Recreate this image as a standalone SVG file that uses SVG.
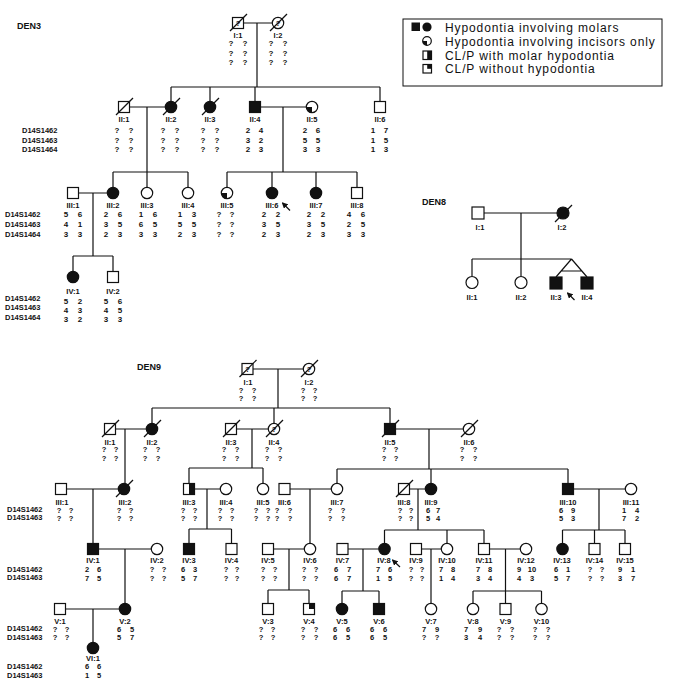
<svg xmlns="http://www.w3.org/2000/svg" width="675" height="690" viewBox="0 0 675 690">
<style>
.ln{stroke:#111;stroke-width:1.2;fill:none}
.o{fill:#fff;stroke:#111;stroke-width:1.2}
.f{fill:#111;stroke:#111;stroke-width:1.2}
.k{fill:#111;stroke:none}
text{font-family:"Liberation Sans",Arial,sans-serif;font-weight:bold;fill:#111}
.lb,.g,.q{font-size:7.5px;text-anchor:middle}
g[id^="den3"] .g{font-size:8px}
.mk{font-size:7.5px}
.ttl{font-size:9px}
.leg{font-size:12px;font-weight:normal;letter-spacing:0.9px}
</style>
<defs>
<marker id="ah" markerWidth="6" markerHeight="6" refX="5" refY="3" orient="auto" markerUnits="userSpaceOnUse"><path d="M0,0 L6,3 L0,6 z" fill="#111"/></marker>
</defs>
<rect width="675" height="690" fill="#fff"/>

<!-- Titles -->
<text class="ttl" x="17" y="29">DEN3</text>
<text class="ttl" x="422" y="205">DEN8</text>
<text class="ttl" x="137" y="370">DEN9</text>

<!-- Legend -->
<g id="legend">
<rect x="403" y="19" width="259" height="67" fill="#fff" stroke="#111" stroke-width="1"/>
<rect class="k" x="411.5" y="22.5" width="8.5" height="8.5"/>
<circle class="k" cx="427" cy="27" r="4.6"/>
<text class="leg" x="445" y="31.5">Hypodontia involving molars</text>
<circle class="o" cx="427" cy="41" r="4.3"/>
<path class="k" d="M427,41 L422.7,41 A4.3,4.3 0 0 0 427,45.3 Z"/>
<text class="leg" x="445" y="45.5">Hypodontia involving incisors only</text>
<rect class="o" x="423" y="51" width="8.5" height="8.5"/>
<rect class="k" x="427.2" y="51" width="4.3" height="8.5"/>
<text class="leg" x="445" y="59.5">CL/P with molar hypodontia</text>
<rect class="o" x="423" y="64.5" width="8.5" height="8.5"/>
<rect class="k" x="427.2" y="64.5" width="4.3" height="4.3"/>
<text class="leg" x="445" y="73">CL/P without hypodontia</text>
</g>

<!-- Connectors -->
<g id="connectors" class="ln">
<!-- DEN3 -->
<path d="M243.5,23H272.3 M257,23V87 M171,87H380 M171,87V101.3 M210,87V101.3 M255,87V101.5 M380,87V101.5"/>
<path d="M129.5,107H165.3 M147,107V172 M113,172H188 M113,172V187.3 M147,172V187.3 M188,172V187.3"/>
<path d="M260.5,107H306.3 M283,107V172 M227,172H357 M227,172V187.3 M272,172V187.3 M316,172V187.3 M357,172V187.5"/>
<path d="M78.5,193H107.3 M93,193V256 M73,256H113 M73,256V271.3 M113,256V271.5"/>
<!-- DEN8 -->
<path d="M484,213H557 M521,213V259 M472,259H571.5 M472,259V276.3 M521,259V276.3 M571.5,259L556,277 M571.5,259L587,277 M561.5,271H581.5"/>
<!-- DEN9 -->
<path d="M253,369H303.3 M278,369V408 M152,408H390 M152,408V423.3 M274,408V423.3 M390,408V423.5"/>
<path d="M115.5,429H146.3 M125,429V483.3"/>
<path d="M236.5,429H268.3 M252,429V468 M189,468H263 M189,468V483.5 M263,468V483.3"/>
<path d="M395.5,429H463.3 M429,429V469 M337,469H568 M337,469V483.3 M431,469V483.3 M568,469V483.5"/>
<path d="M66.5,489H118.3 M93,489V543.5"/>
<path d="M194.5,489H220.3 M207,489V529 M189,529H231.5 M189,529V543.5 M231.5,529V543.5"/>
<path d="M290,489H331.3 M310,489V543.3"/>
<path d="M409.5,489H425.3 M418,489V530 M384.5,530H484 M384.5,530V543.3 M447,530V543.3 M484,530V543.5"/>
<path d="M573.5,489H625.3 M599,489V530 M562.5,530H625 M562.5,530V543.3 M594.5,530V543.5 M625,530V543.5"/>
<path d="M98.5,549H151.3 M125,549V603.3"/>
<path d="M273.5,549H304.3 M289,549V590 M268,590H309 M268,590V603.5 M309,590V603.5"/>
<path d="M348,549H378.8 M363,549V591 M342,591H379 M342,591V603.3 M379,591V603.5"/>
<path d="M421.5,549H441.3 M431,549V603.3"/>
<path d="M489.5,549H520.3 M505.5,549V591 M473,591H541.5 M473,591V603.3 M505.5,591V603.5 M541.5,591V603.3"/>
<path d="M65.5,609H119.3 M93,609V642.3"/>
</g>

<!-- ================= DEN3 ================= -->
<g id="den3-markers" class="mk">
<text x="22" y="132.5">D14S1462</text><text x="22" y="142.5">D14S1463</text><text x="22" y="152">D14S1464</text>
<text x="5" y="217">D14S1462</text><text x="5" y="227">D14S1463</text><text x="5" y="237">D14S1464</text>
<text x="5" y="301">D14S1462</text><text x="5" y="310">D14S1463</text><text x="5" y="320">D14S1464</text>
</g>
<g id="den3-I1"><rect class="o" x="232.5" y="17.5" width="11" height="11"/><text class="q" x="238" y="26">?</text><line class="ln" x1="230" y1="31" x2="247" y2="14"/><text class="lb" x="238" y="38">I:1</text>
<g class="g"><text x="231" y="46">?</text><text x="245" y="46">?</text><text x="231" y="55.5">?</text><text x="245" y="55.5">?</text><text x="231" y="65">?</text><text x="245" y="65">?</text></g></g>
<g id="den3-I2"><circle class="o" cx="278" cy="23" r="5.7"/><text class="q" x="278" y="26">?</text><line class="ln" x1="270" y1="31" x2="287" y2="14"/><text class="lb" x="278" y="38">I:2</text>
<g class="g"><text x="271" y="46">?</text><text x="285" y="46">?</text><text x="271" y="55.5">?</text><text x="285" y="55.5">?</text><text x="271" y="65">?</text><text x="285" y="65">?</text></g></g>

<g id="den3-II1"><rect class="o" x="118.5" y="101.5" width="11" height="11"/><line class="ln" x1="116" y1="115" x2="133" y2="98"/><text class="lb" x="124" y="122">II:1</text>
<g class="g"><text x="117" y="132.5">?</text><text x="131" y="132.5">?</text><text x="117" y="142.5">?</text><text x="131" y="142.5">?</text><text x="117" y="152">?</text><text x="131" y="152">?</text></g></g>
<g id="den3-II2"><circle class="f" cx="171" cy="107" r="5.7"/><line class="ln" x1="163" y1="115" x2="180" y2="98"/><text class="lb" x="171" y="122">II:2</text>
<g class="g"><text x="163" y="132.5">?</text><text x="177" y="132.5">?</text><text x="163" y="142.5">?</text><text x="177" y="142.5">?</text><text x="163" y="152">?</text><text x="177" y="152">?</text></g></g>
<g id="den3-II3"><circle class="f" cx="210" cy="107" r="5.7"/><line class="ln" x1="202" y1="115" x2="219" y2="98"/><text class="lb" x="210" y="122">II:3</text>
<g class="g"><text x="203" y="132.5">?</text><text x="217" y="132.5">?</text><text x="203" y="142.5">?</text><text x="217" y="142.5">?</text><text x="203" y="152">?</text><text x="217" y="152">?</text></g></g>
<g id="den3-II4"><rect class="f" x="249.5" y="101.5" width="11" height="11"/><text class="lb" x="255" y="122">II:4</text>
<g class="g"><text x="248" y="132.5">2</text><text x="261" y="132.5">4</text><text x="248" y="142.5">3</text><text x="261" y="142.5">2</text><text x="248" y="152">2</text><text x="261" y="152">3</text></g></g>
<g id="den3-II5"><circle class="o" cx="312" cy="107" r="5.7"/><path class="k" d="M312,107 L306.3,107 A5.7,5.7 0 0 0 312,112.7 Z"/><text class="lb" x="312" y="122">II:5</text>
<g class="g"><text x="305" y="132.5">2</text><text x="318" y="132.5">6</text><text x="305" y="142.5">5</text><text x="318" y="142.5">5</text><text x="305" y="152">3</text><text x="318" y="152">3</text></g></g>
<g id="den3-II6"><rect class="o" x="374.5" y="101.5" width="11" height="11"/><text class="lb" x="380" y="122">II:6</text>
<g class="g"><text x="373" y="132.5">1</text><text x="386" y="132.5">7</text><text x="373" y="142.5">1</text><text x="386" y="142.5">5</text><text x="373" y="152">1</text><text x="386" y="152">3</text></g></g>

<g id="den3-III1"><rect class="o" x="67.5" y="187.5" width="11" height="11"/><text class="lb" x="73" y="208">III:1</text>
<g class="g"><text x="66" y="217">5</text><text x="80" y="217">6</text><text x="66" y="227">4</text><text x="80" y="227">1</text><text x="66" y="237">3</text><text x="80" y="237">3</text></g></g>
<g id="den3-III2"><circle class="f" cx="113" cy="193" r="5.7"/><text class="lb" x="113" y="208">III:2</text>
<g class="g"><text x="106" y="217">2</text><text x="120" y="217">6</text><text x="106" y="227">3</text><text x="120" y="227">5</text><text x="106" y="237">2</text><text x="120" y="237">3</text></g></g>
<g id="den3-III3"><circle class="o" cx="147" cy="193" r="5.7"/><text class="lb" x="147" y="208">III:3</text>
<g class="g"><text x="141" y="217">1</text><text x="155" y="217">6</text><text x="141" y="227">6</text><text x="155" y="227">5</text><text x="141" y="237">3</text><text x="155" y="237">3</text></g></g>
<g id="den3-III4"><circle class="o" cx="188" cy="193" r="5.7"/><text class="lb" x="188" y="208">III:4</text>
<g class="g"><text x="180" y="217">1</text><text x="194" y="217">3</text><text x="180" y="227">5</text><text x="194" y="227">5</text><text x="180" y="237">2</text><text x="194" y="237">3</text></g></g>
<g id="den3-III5"><circle class="o" cx="227" cy="193" r="5.7"/><path class="k" d="M227,193 L221.3,193 A5.7,5.7 0 0 0 227,198.7 Z"/><text class="lb" x="227" y="208">III:5</text>
<g class="g"><text x="219" y="217">?</text><text x="232" y="217">?</text><text x="219" y="227">?</text><text x="232" y="227">?</text><text x="219" y="237">?</text><text x="232" y="237">?</text></g></g>
<g id="den3-III6"><circle class="f" cx="272" cy="193" r="5.7"/><text class="lb" x="272" y="208">III:6</text><line class="ln" x1="290" y1="210.5" x2="282.5" y2="203" marker-end="url(#ah)"/>
<g class="g"><text x="264" y="217">2</text><text x="278" y="217">2</text><text x="264" y="227">3</text><text x="278" y="227">5</text><text x="264" y="237">2</text><text x="278" y="237">3</text></g></g>
<g id="den3-III7"><circle class="f" cx="316" cy="193" r="5.7"/><text class="lb" x="316" y="208">III:7</text>
<g class="g"><text x="309" y="217">2</text><text x="323" y="217">2</text><text x="309" y="227">3</text><text x="323" y="227">5</text><text x="309" y="237">2</text><text x="323" y="237">3</text></g></g>
<g id="den3-III8"><rect class="o" x="351.5" y="187.5" width="11" height="11"/><text class="lb" x="357" y="208">III:8</text>
<g class="g"><text x="349" y="217">4</text><text x="363" y="217">6</text><text x="349" y="227">2</text><text x="363" y="227">5</text><text x="349" y="237">3</text><text x="363" y="237">3</text></g></g>

<g id="den3-IV1"><circle class="f" cx="73" cy="277" r="5.7"/><text class="lb" x="73" y="294">IV:1</text>
<g class="g"><text x="66" y="304">5</text><text x="80" y="304">2</text><text x="66" y="313">4</text><text x="80" y="313">3</text><text x="66" y="322">3</text><text x="80" y="322">2</text></g></g>
<g id="den3-IV2"><rect class="o" x="107.5" y="271.5" width="11" height="11"/><text class="lb" x="113" y="294">IV:2</text>
<g class="g"><text x="106" y="304">5</text><text x="120" y="304">6</text><text x="106" y="313">4</text><text x="120" y="313">5</text><text x="106" y="322">3</text><text x="120" y="322">3</text></g></g>

<!-- ================= DEN8 ================= -->
<g id="den8-I1"><rect class="o" x="472" y="207" width="12" height="12"/><text class="lb" x="480" y="230">I:1</text></g>
<g id="den8-I2"><circle class="f" cx="563" cy="213" r="6"/><line class="ln" x1="555" y1="222" x2="572" y2="205"/><text class="lb" x="562" y="230">I:2</text></g>
<g id="den8-II1"><circle class="o" cx="472" cy="282.5" r="6"/><text class="lb" x="472" y="300">II:1</text></g>
<g id="den8-II2"><circle class="o" cx="521" cy="282.5" r="6"/><text class="lb" x="521" y="300">II:2</text></g>
<g id="den8-II3"><rect class="f" x="550" y="277" width="12" height="12"/><text class="lb" x="556" y="300">II:3</text><line class="ln" x1="574.5" y1="300" x2="567.5" y2="293" marker-end="url(#ah)"/></g>
<g id="den8-II4"><rect class="f" x="581" y="277" width="12" height="12"/><text class="lb" x="587" y="300">II:4</text></g>

<!-- ================= DEN9 ================= -->
<g id="den9-markers" class="mk">
<text x="7" y="511.5">D14S1462</text><text x="7" y="520">D14S1463</text>
<text x="7" y="571.5">D14S1462</text><text x="7" y="580">D14S1463</text>
<text x="7" y="631">D14S1462</text><text x="7" y="639.5">D14S1463</text>
<text x="7" y="669">D14S1462</text><text x="7" y="677.5">D14S1463</text>
</g>
<g id="den9-I1"><rect class="o" x="242" y="363.5" width="11" height="11"/><text class="q" x="247.5" y="372">?</text><line class="ln" x1="239.5" y1="377" x2="256.5" y2="360"/><text class="lb" x="248" y="385">I:1</text>
<g class="g"><text x="241" y="392.5">?</text><text x="254" y="392.5">?</text><text x="241" y="401">?</text><text x="254" y="401">?</text></g></g>
<g id="den9-I2"><circle class="o" cx="309" cy="369" r="5.7"/><text class="q" x="309" y="372">?</text><line class="ln" x1="301" y1="377" x2="318" y2="360"/><text class="lb" x="309" y="385">I:2</text>
<g class="g"><text x="303" y="392.5">?</text><text x="315" y="392.5">?</text><text x="303" y="401">?</text><text x="315" y="401">?</text></g></g>

<g id="den9-II1"><rect class="o" x="104.5" y="423.5" width="11" height="11"/><line class="ln" x1="102" y1="437" x2="119" y2="420"/><text class="lb" x="110" y="445">II:1</text>
<g class="g"><text x="104" y="452">?</text><text x="116" y="452">?</text><text x="104" y="461">?</text><text x="116" y="461">?</text></g></g>
<g id="den9-II2"><circle class="f" cx="152" cy="429" r="5.7"/><line class="ln" x1="144" y1="437" x2="161" y2="420"/><text class="lb" x="152" y="445">II:2</text>
<g class="g"><text x="145" y="452">?</text><text x="158" y="452">?</text><text x="145" y="461">?</text><text x="158" y="461">?</text></g></g>
<g id="den9-II3"><rect class="o" x="225.5" y="423.5" width="11" height="11"/><line class="ln" x1="223" y1="437" x2="240" y2="420"/><text class="lb" x="231" y="445">II:3</text>
<g class="g"><text x="224" y="452">?</text><text x="237" y="452">?</text><text x="224" y="461">?</text><text x="237" y="461">?</text></g></g>
<g id="den9-II4"><circle class="o" cx="274" cy="429" r="5.7"/><text class="q" x="274" y="432">?</text><line class="ln" x1="266" y1="437" x2="283" y2="420"/><text class="lb" x="274" y="445">II:4</text>
<g class="g"><text x="267" y="452">?</text><text x="280" y="452">?</text><text x="267" y="461">?</text><text x="280" y="461">?</text></g></g>
<g id="den9-II5"><rect class="f" x="384.5" y="423.5" width="11" height="11"/><line class="ln" x1="382" y1="437" x2="399" y2="420"/><text class="lb" x="390" y="445">II:5</text>
<g class="g"><text x="384" y="452">?</text><text x="396" y="452">?</text><text x="384" y="461">?</text><text x="396" y="461">?</text></g></g>
<g id="den9-II6"><circle class="o" cx="469" cy="429" r="5.7"/><line class="ln" x1="461" y1="437" x2="478" y2="420"/><text class="lb" x="469" y="445">II:6</text>
<g class="g"><text x="462" y="452">?</text><text x="475" y="452">?</text><text x="462" y="461">?</text><text x="475" y="461">?</text></g></g>

<g id="den9-III1"><rect class="o" x="55.5" y="483.5" width="11" height="11"/><text class="lb" x="62" y="505">III:1</text>
<g class="g"><text x="59" y="512.5">?</text><text x="71" y="512.5">?</text><text x="59" y="521">?</text><text x="71" y="521">?</text></g></g>
<g id="den9-III2"><circle class="f" cx="124" cy="489" r="5.7"/><line class="ln" x1="116" y1="497" x2="133" y2="480"/><text class="lb" x="125" y="505">III:2</text>
<g class="g"><text x="119" y="512.5">?</text><text x="131" y="512.5">?</text><text x="119" y="521">?</text><text x="131" y="521">?</text></g></g>
<g id="den9-III3"><rect class="o" x="183.5" y="483.5" width="11" height="11"/><rect class="k" x="189" y="483.5" width="5.5" height="11"/><text class="lb" x="189" y="505">III:3</text>
<g class="g"><text x="183" y="512.5">?</text><text x="195" y="512.5">?</text><text x="183" y="521">?</text><text x="195" y="521">?</text></g></g>
<g id="den9-III4"><circle class="o" cx="226" cy="489" r="5.7"/><text class="lb" x="226" y="505">III:4</text>
<g class="g"><text x="220" y="512.5">?</text><text x="232" y="512.5">?</text><text x="220" y="521">?</text><text x="232" y="521">?</text></g></g>
<g id="den9-III5"><circle class="o" cx="263" cy="489" r="5.7"/><text class="lb" x="263" y="505">III:5</text>
<g class="g"><text x="256" y="512.5">?</text><text x="268" y="512.5">?</text><text x="256" y="521">?</text><text x="268" y="521">?</text></g></g>
<g id="den9-III6"><rect class="o" x="279" y="483.5" width="11" height="11"/><text class="lb" x="284.5" y="505">III:6</text>
<g class="g"><text x="277" y="512.5">?</text><text x="290" y="512.5">?</text><text x="277" y="521">?</text><text x="290" y="521">?</text></g></g>
<g id="den9-III7"><circle class="o" cx="337" cy="489" r="5.7"/><text class="lb" x="337" y="505">III:7</text>
<g class="g"><text x="330" y="512.5">?</text><text x="343" y="512.5">?</text><text x="330" y="521">?</text><text x="343" y="521">?</text></g></g>
<g id="den9-III8"><rect class="o" x="398.5" y="483.5" width="11" height="11"/><line class="ln" x1="396" y1="497" x2="413" y2="480"/><text class="lb" x="404" y="505">III:8</text>
<g class="g"><text x="400" y="512.5">?</text><text x="411" y="512.5">?</text><text x="400" y="521">?</text><text x="411" y="521">?</text></g></g>
<g id="den9-III9"><circle class="f" cx="431" cy="489" r="5.7"/><text class="lb" x="431" y="505">III:9</text>
<g class="g"><text x="428" y="512.5">6</text><text x="438" y="512.5">7</text><text x="428" y="521">5</text><text x="438" y="521">4</text></g></g>
<g id="den9-III10"><rect class="f" x="562.5" y="483.5" width="11" height="11"/><text class="lb" x="568" y="505">III:10</text>
<g class="g"><text x="561" y="512.5">6</text><text x="573" y="512.5">9</text><text x="561" y="521">5</text><text x="573" y="521">3</text></g></g>
<g id="den9-III11"><circle class="o" cx="631" cy="489" r="5.7"/><text class="lb" x="631" y="505">III:11</text>
<g class="g"><text x="624" y="512.5">1</text><text x="637" y="512.5">4</text><text x="624" y="521">7</text><text x="637" y="521">2</text></g></g>

<g id="den9-IV1"><rect class="f" x="87.5" y="543.5" width="11" height="11"/><text class="lb" x="93" y="563">IV:1</text>
<g class="g"><text x="87" y="572">2</text><text x="99" y="572">6</text><text x="87" y="580.5">7</text><text x="99" y="580.5">5</text></g></g>
<g id="den9-IV2"><circle class="o" cx="157" cy="549" r="5.7"/><text class="lb" x="157" y="563">IV:2</text>
<g class="g"><text x="152" y="572">?</text><text x="164" y="572">?</text><text x="152" y="580.5">?</text><text x="164" y="580.5">?</text></g></g>
<g id="den9-IV3"><rect class="f" x="183.5" y="543.5" width="11" height="11"/><text class="lb" x="189" y="563">IV:3</text>
<g class="g"><text x="183" y="572">6</text><text x="195" y="572">3</text><text x="183" y="580.5">5</text><text x="195" y="580.5">7</text></g></g>
<g id="den9-IV4"><rect class="o" x="226" y="543.5" width="11" height="11"/><text class="lb" x="231.5" y="563">IV:4</text>
<g class="g"><text x="226" y="572">?</text><text x="237" y="572">?</text><text x="226" y="580.5">?</text><text x="237" y="580.5">?</text></g></g>
<g id="den9-IV5"><rect class="o" x="262.5" y="543.5" width="11" height="11"/><text class="lb" x="268" y="563">IV:5</text>
<g class="g"><text x="263" y="572">?</text><text x="275" y="572">?</text><text x="263" y="580.5">?</text><text x="275" y="580.5">?</text></g></g>
<g id="den9-IV6"><circle class="o" cx="310" cy="549" r="5.7"/><text class="lb" x="310" y="563">IV:6</text>
<g class="g"><text x="304" y="572">?</text><text x="316" y="572">?</text><text x="304" y="580.5">?</text><text x="316" y="580.5">?</text></g></g>
<g id="den9-IV7"><rect class="o" x="337" y="543.5" width="11" height="11"/><text class="lb" x="342.5" y="563">IV:7</text>
<g class="g"><text x="336" y="572">6</text><text x="349" y="572">7</text><text x="336" y="580.5">6</text><text x="349" y="580.5">7</text></g></g>
<g id="den9-IV8"><circle class="f" cx="384.5" cy="549" r="5.7"/><text class="lb" x="384" y="563">IV:8</text><line class="ln" x1="400" y1="567" x2="392.5" y2="560" marker-end="url(#ah)"/>
<g class="g"><text x="378" y="572">7</text><text x="390" y="572">6</text><text x="378" y="580.5">1</text><text x="390" y="580.5">5</text></g></g>
<g id="den9-IV9"><rect class="o" x="410.5" y="543.5" width="11" height="11"/><text class="lb" x="416" y="563">IV:9</text>
<g class="g"><text x="411" y="572">?</text><text x="422" y="572">?</text><text x="411" y="580.5">?</text><text x="422" y="580.5">?</text></g></g>
<g id="den9-IV10"><circle class="o" cx="447" cy="549" r="5.7"/><text class="lb" x="447" y="563">IV:10</text>
<g class="g"><text x="441" y="572">7</text><text x="453" y="572">8</text><text x="441" y="580.5">1</text><text x="453" y="580.5">4</text></g></g>
<g id="den9-IV11"><rect class="o" x="478.5" y="543.5" width="11" height="11"/><text class="lb" x="484" y="563">IV:11</text>
<g class="g"><text x="478" y="572">7</text><text x="490" y="572">8</text><text x="478" y="580.5">3</text><text x="490" y="580.5">4</text></g></g>
<g id="den9-IV12"><circle class="o" cx="526" cy="549" r="5.7"/><text class="lb" x="526" y="563">IV:12</text>
<g class="g"><text x="519" y="572">9</text><text x="532" y="572">10</text><text x="519" y="580.5">4</text><text x="532" y="580.5">3</text></g></g>
<g id="den9-IV13"><circle class="f" cx="562.5" cy="549" r="5.7"/><text class="lb" x="562" y="563">IV:13</text>
<g class="g"><text x="556" y="572">6</text><text x="568" y="572">1</text><text x="556" y="580.5">5</text><text x="568" y="580.5">7</text></g></g>
<g id="den9-IV14"><rect class="o" x="589" y="543.5" width="11" height="11"/><text class="lb" x="594.5" y="563">IV:14</text>
<g class="g"><text x="590" y="572">?</text><text x="602" y="572">?</text><text x="590" y="580.5">?</text><text x="602" y="580.5">?</text></g></g>
<g id="den9-IV15"><rect class="o" x="619.5" y="543.5" width="11" height="11"/><text class="lb" x="625" y="563">IV:15</text>
<g class="g"><text x="620" y="572">9</text><text x="633" y="572">1</text><text x="620" y="580.5">3</text><text x="633" y="580.5">7</text></g></g>

<g id="den9-V1"><rect class="o" x="54.5" y="603.5" width="11" height="11"/><text class="lb" x="60" y="624">V:1</text>
<g class="g"><text x="55" y="632">?</text><text x="67" y="632">?</text><text x="55" y="640">?</text><text x="67" y="640">?</text></g></g>
<g id="den9-V2"><circle class="f" cx="125" cy="609" r="5.7"/><text class="lb" x="125" y="624">V:2</text>
<g class="g"><text x="119" y="632">6</text><text x="132" y="632">5</text><text x="119" y="640">5</text><text x="132" y="640">7</text></g></g>
<g id="den9-V3"><rect class="o" x="262.5" y="603.5" width="11" height="11"/><text class="lb" x="268" y="624">V:3</text>
<g class="g"><text x="261" y="632">?</text><text x="273" y="632">?</text><text x="261" y="640">?</text><text x="273" y="640">?</text></g></g>
<g id="den9-V4"><rect class="o" x="303.5" y="603.5" width="11" height="11"/><rect class="k" x="309" y="603.5" width="5.5" height="5.5"/><text class="lb" x="309" y="624">V:4</text>
<g class="g"><text x="303" y="632">?</text><text x="316" y="632">?</text><text x="303" y="640">?</text><text x="316" y="640">?</text></g></g>
<g id="den9-V5"><circle class="f" cx="342" cy="609" r="5.7"/><text class="lb" x="342" y="624">V:5</text>
<g class="g"><text x="335" y="632">6</text><text x="348" y="632">6</text><text x="335" y="640">6</text><text x="348" y="640">5</text></g></g>
<g id="den9-V6"><rect class="f" x="373.5" y="603.5" width="11" height="11"/><text class="lb" x="379" y="624">V:6</text>
<g class="g"><text x="372" y="632">6</text><text x="385" y="632">6</text><text x="372" y="640">6</text><text x="385" y="640">5</text></g></g>
<g id="den9-V7"><circle class="o" cx="431" cy="609" r="5.7"/><text class="lb" x="431" y="624">V:7</text>
<g class="g"><text x="424" y="632">7</text><text x="437" y="632">9</text><text x="424" y="640">?</text><text x="437" y="640">?</text></g></g>
<g id="den9-V8"><circle class="o" cx="473" cy="609" r="5.7"/><text class="lb" x="473" y="624">V:8</text>
<g class="g"><text x="466" y="632">7</text><text x="480" y="632">9</text><text x="466" y="640">3</text><text x="480" y="640">4</text></g></g>
<g id="den9-V9"><rect class="o" x="500" y="603.5" width="11" height="11"/><text class="lb" x="505.5" y="624">V:9</text>
<g class="g"><text x="499" y="632">?</text><text x="512" y="632">?</text><text x="499" y="640">?</text><text x="512" y="640">?</text></g></g>
<g id="den9-V10"><circle class="o" cx="541.5" cy="609" r="5.7"/><text class="lb" x="541.5" y="624">V:10</text>
<g class="g"><text x="535" y="632">?</text><text x="548" y="632">?</text><text x="535" y="640">?</text><text x="548" y="640">?</text></g></g>

<g id="den9-VI1"><circle class="f" cx="93" cy="648" r="5.7"/><text class="lb" x="93" y="660.5">VI:1</text>
<g class="g"><text x="87" y="669">6</text><text x="99" y="669">6</text><text x="87" y="677.5">1</text><text x="99" y="677.5">5</text></g></g>
</svg>
